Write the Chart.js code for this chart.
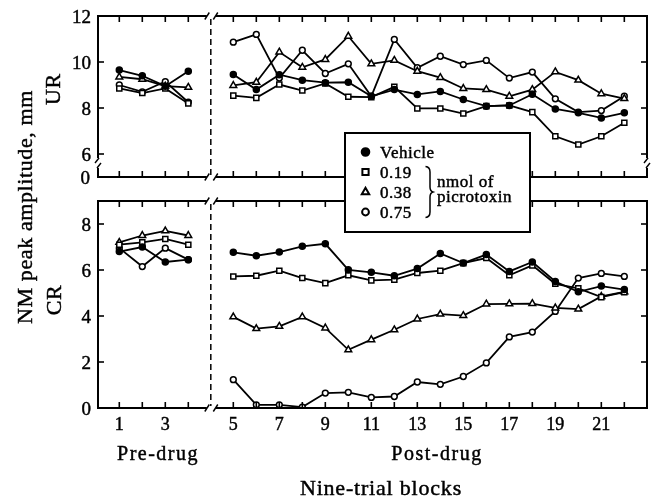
<!DOCTYPE html>
<html><head><meta charset="utf-8">
<script src="https://cdn.jsdelivr.net/npm/chart.js@4.4.1/dist/chart.umd.min.js"></script>
<style>html,body{margin:0;padding:0;background:#fff;}canvas{display:block;}</style>
</head><body>
<canvas id="c" width="656" height="498"></canvas>
<script>
// ---------- DATA ----------
const preBlocks = [1, 2, 3, 4];
const postBlocks = [5, 6, 7, 8, 9, 10, 11, 12, 13, 14, 15, 16, 17, 18, 19, 20, 21, 22];
const seriesNames = ['Vehicle', '0.19', '0.38', '0.75'];

// UR panel (top)
const urPreVehicle = [9.65, 9.4, 8.95, 9.6];
const urPre019 = [8.85, 8.65, 8.85, 8.2];
const urPre038 = [9.35, 9.25, 8.95, 8.9];
const urPre075 = [9.0, 8.7, 9.15, 8.25];
const urPostVehicle = [9.46, 8.8, 9.45, 9.21, 9.1, 9.12, 8.51, 8.8, 8.59, 8.72, 8.37, 8.08, 8.11, 8.6, 7.96, 7.79, 7.57, 7.79];
const urPost019 = [8.54, 8.44, 9.02, 8.76, 9.07, 8.49, 8.47, 8.92, 7.98, 7.98, 7.76, 8.08, 8.11, 7.82, 6.77, 6.41, 6.77, 7.36];
const urPost038 = [8.98, 9.12, 10.43, 9.77, 10.11, 11.12, 9.92, 10.07, 9.6, 9.32, 8.85, 8.8, 8.51, 8.8, 9.57, 9.21, 8.62, 8.41];
const urPost075 = [10.86, 11.2, 9.3, 10.51, 9.5, 9.92, 8.51, 10.98, 9.75, 10.25, 9.89, 10.07, 9.3, 9.56, 8.4, 7.82, 7.89, 8.51];

// CR panel (bottom)
const crPreVehicle = [6.8, 7.0, 6.35, 6.45];
const crPre019 = [7.1, 7.2, 7.35, 7.1];
const crPre038 = [7.2, 7.5, 7.7, 7.5];
const crPre075 = [6.95, 6.15, 6.95, 6.45];
const crPostVehicle = [6.77, 6.62, 6.78, 7.03, 7.14, 6.01, 5.9, 5.75, 6.06, 6.72, 6.3, 6.67, 5.94, 6.35, 5.5, 5.05, 5.3, 5.15];
const crPost019 = [5.72, 5.75, 5.97, 5.65, 5.43, 5.77, 5.55, 5.58, 5.87, 5.97, 6.3, 6.52, 5.77, 6.2, 5.4, 5.2, 4.82, 5.04];
const crPost038 = [3.96, 3.45, 3.55, 3.96, 3.48, 2.53, 2.97, 3.4, 3.87, 4.08, 4.02, 4.52, 4.53, 4.54, 4.35, 4.3, 4.85, 5.05];
const crPost075 = [1.23, 0.14, 0.14, 0.04, 0.65, 0.68, 0.46, 0.5, 1.13, 1.03, 1.37, 1.96, 3.09, 3.3, 4.2, 5.65, 5.85, 5.72];

// Tick labels
const urTickValues = [6, 8, 10, 12];
const urBreakLabel = '0';
const crTickValues = [0, 2, 4, 6, 8];
const xTickLabelsPre = [1, 3];
const xTickLabelsPost = [5, 7, 9, 11, 13, 15, 17, 19, 21];

// Texts
const yTitle = 'NM peak amplitude, mm';
const urLabel = 'UR';
const crLabel = 'CR';
const preLabel = 'Pre-drug';
const postLabel = 'Post-drug';
const xTitle = 'Nine-trial blocks';
const legendNote = ['nmol of', 'picrotoxin'];

// ---------- STYLE ----------
const SERIF = '"Liberation Serif", "Times New Roman", serif';
const markerStyle = {
  'Vehicle': {pointStyle: 'circle', radius: 3.0, bg: '#000', legendRadius: 3.8},
  '0.19': {pointStyle: 'rect', radius: 3.6, bg: '#fff', legendRadius: 4.4},
  '0.38': {pointStyle: 'triangle', radius: 3.9, bg: '#fff', legendRadius: 4.3},
  '0.75': {pointStyle: 'circle', radius: 2.9, bg: '#fff', legendRadius: 3.4}
};
const urRange = [5, 12];
const crRange = [0, 9];

function makeDataset(name, blocks, values, xID, yID) {
  const s = markerStyle[name];
  return {
    label: name,
    data: blocks.map((b, i) => ({x: b, y: values[i]})),
    xAxisID: xID, yAxisID: yID,
    borderColor: '#000', borderWidth: 1.8,
    pointStyle: s.pointStyle, pointRadius: s.radius,
    pointBackgroundColor: s.bg, pointBorderColor: '#000', pointBorderWidth: 1.5,
    fill: false, tension: 0
  };
}

const datasets = [
  makeDataset('Vehicle', preBlocks, urPreVehicle, 'x', 'yTop'),
  makeDataset('0.19', preBlocks, urPre019, 'x', 'yTop'),
  makeDataset('0.38', preBlocks, urPre038, 'x', 'yTop'),
  makeDataset('0.75', preBlocks, urPre075, 'x', 'yTop'),
  makeDataset('Vehicle', postBlocks, urPostVehicle, 'xPost', 'yTop'),
  makeDataset('0.19', postBlocks, urPost019, 'xPost', 'yTop'),
  makeDataset('0.38', postBlocks, urPost038, 'xPost', 'yTop'),
  makeDataset('0.75', postBlocks, urPost075, 'xPost', 'yTop'),
  makeDataset('Vehicle', preBlocks, crPreVehicle, 'x', 'yBot'),
  makeDataset('0.19', preBlocks, crPre019, 'x', 'yBot'),
  makeDataset('0.38', preBlocks, crPre038, 'x', 'yBot'),
  makeDataset('0.75', preBlocks, crPre075, 'x', 'yBot'),
  makeDataset('Vehicle', postBlocks, crPostVehicle, 'xPost', 'yBot'),
  makeDataset('0.19', postBlocks, crPost019, 'xPost', 'yBot'),
  makeDataset('0.38', postBlocks, crPost038, 'xPost', 'yBot'),
  makeDataset('0.75', postBlocks, crPost075, 'xPost', 'yBot')
];

function line(ctx, x1, y1, x2, y2) {
  ctx.beginPath(); ctx.moveTo(x1, y1); ctx.lineTo(x2, y2); ctx.stroke();
}
function text(ctx, str, x, y, size, align, spacing) {
  ctx.font = size + 'px ' + SERIF;
  ctx.textAlign = align || 'left';
  ctx.textBaseline = 'alphabetic';
  try { ctx.letterSpacing = (spacing || 0) + 'px'; } catch (e) {}
  ctx.fillText(str, x, y);
  const lw = ctx.lineWidth, ss = ctx.strokeStyle;
  ctx.lineWidth = 0.45; ctx.strokeStyle = '#000';
  ctx.strokeText(str, x, y);
  ctx.lineWidth = lw; ctx.strokeStyle = ss;
  try { ctx.letterSpacing = '0px'; } catch (e) {}
}

const framePlugin = {
  id: 'frames',
  afterDatasetsDraw(chart) {
    const {ctx, chartArea, scales} = chart;
    const xPre = scales.x, xPost = scales.xPost;
    const L = chartArea.left, R = chartArea.right;
    const bx = (xPre.getPixelForValue(preBlocks[preBlocks.length - 1]) + xPost.getPixelForValue(postBlocks[0])) / 2;
    ctx.save();
    ctx.strokeStyle = '#000'; ctx.fillStyle = '#000';
    ctx.lineCap = 'butt';

    const hEdge = (y) => {
      ctx.lineWidth = 2;
      line(ctx, L - 1, y, bx - 4, y);
      line(ctx, bx + 5, y, R + 1, y);
      ctx.lineWidth = 1.4;
      line(ctx, bx - 6, y + 3.5, bx - 1.5, y - 3.5);
      line(ctx, bx + 2.5, y + 3.5, bx + 7, y - 3.5);
    };
    const xTicks = (top, bottom) => {
      ctx.lineWidth = 1.6;
      preBlocks.forEach(b => { const p = xPre.getPixelForValue(b); line(ctx, p, top, p, top + 6); line(ctx, p, bottom, p, bottom - 6); });
      postBlocks.forEach(b => { const p = xPost.getPixelForValue(b); line(ctx, p, top, p, top + 6); line(ctx, p, bottom, p, bottom - 6); });
    };
    const dashed = (top, bottom) => {
      ctx.save(); ctx.lineWidth = 1.5; ctx.setLineDash([6, 4]);
      line(ctx, bx, top + 3, bx, bottom - 2);
      ctx.restore();
    };

    // ---- top panel (UR) ----
    const yT = scales.yTop;
    const tTop = yT.getPixelForValue(urRange[1]);
    const tBot = yT.getPixelForValue(urRange[0]);
    hEdge(tTop); hEdge(tBot);
    ctx.lineWidth = 2;
    [L, R].forEach((x) => {
      line(ctx, x, tTop, x, tBot - 19);
      line(ctx, x, tBot - 9, x, tBot);
      ctx.lineWidth = 1.4;
      line(ctx, x - 3, tBot - 14, x + 1, tBot - 19);
      line(ctx, x - 1, tBot - 9, x + 3, tBot - 14);
      ctx.lineWidth = 2;
    });
    xTicks(tTop, tBot);
    ctx.lineWidth = 1.6;
    urTickValues.forEach(v => { const p = yT.getPixelForValue(v); line(ctx, L, p, L + 6, p); line(ctx, R, p, R - 6, p); });
    dashed(tTop, tBot);
    ctx.fillStyle = '#000';
    urTickValues.forEach(v => text(ctx, String(v), L - 7, yT.getPixelForValue(v) + 6.5, 19, 'right'));
    text(ctx, urBreakLabel, L - 8, tBot + 6.5, 19, 'right');

    // ---- bottom panel (CR) ----
    const yB = scales.yBot;
    const bTop = yB.getPixelForValue(crRange[1]);
    const bBot = yB.getPixelForValue(crRange[0]);
    hEdge(bTop); hEdge(bBot);
    ctx.lineWidth = 2;
    line(ctx, L, bTop, L, bBot + 1);
    line(ctx, R, bTop, R, bBot + 1);
    xTicks(bTop, bBot);
    ctx.lineWidth = 1.6;
    crTickValues.forEach(v => { const p = yB.getPixelForValue(v); line(ctx, L, p, L + 6, p); line(ctx, R, p, R - 6, p); });
    dashed(bTop, bBot);
    crTickValues.forEach(v => text(ctx, String(v), L - 7, yB.getPixelForValue(v) + 6.5, 19, 'right'));

    // x tick labels
    xTickLabelsPre.forEach(v => text(ctx, String(v), xPre.getPixelForValue(v), bBot + 22, 18, 'center'));
    xTickLabelsPost.forEach(v => text(ctx, String(v), xPost.getPixelForValue(v), bBot + 22, 18, 'center'));

    // x labels
    text(ctx, preLabel, 158, 460, 20, 'center', 1.5);
    text(ctx, postLabel, 437, 460, 20, 'center', 1.5);
    text(ctx, xTitle, 381, 495, 22, 'center', 0.8);

    // y titles (rotated)
    const rot = (str, x, y) => {
      ctx.save(); ctx.translate(x, y); ctx.rotate(-Math.PI / 2);
      text(ctx, str, 0, 0, 22, 'center', 0.6);
      ctx.restore();
    };
    rot(yTitle, 32, 207);
    rot(urLabel, 60, 89);
    rot(crLabel, 61, 300);

    // ---- legend box ----
    const bxL = 345, byT = 133, bw = 185, bh = 99;
    ctx.fillStyle = '#fff';
    ctx.fillRect(bxL, byT, bw, bh);
    ctx.lineWidth = 2; ctx.strokeStyle = '#000';
    ctx.strokeRect(bxL, byT, bw, bh);
    ctx.fillStyle = '#000';
    seriesNames.forEach((name, i) => {
      const s = markerStyle[name];
      const base = 157.5 + i * 20;
      ctx.save();
      ctx.lineWidth = 2; ctx.strokeStyle = '#000'; ctx.fillStyle = s.bg;
      Chart.helpers.drawPoint(ctx, {pointStyle: s.pointStyle, radius: s.legendRadius, rotation: 0, borderWidth: 2}, 365.5, base - 5.5);
      ctx.restore();
      ctx.fillStyle = '#000';
      text(ctx, name, 380, base, 17, 'left', 0.5);
    });
    // brace
    ctx.lineWidth = 1.5;
    ctx.beginPath();
    ctx.moveTo(425.5, 166.5);
    ctx.quadraticCurveTo(430, 167, 430, 172);
    ctx.lineTo(430, 187);
    ctx.quadraticCurveTo(430, 191, 433, 192);
    ctx.quadraticCurveTo(430, 193, 430, 197);
    ctx.lineTo(430, 212);
    ctx.quadraticCurveTo(430, 217, 425.5, 217.5);
    ctx.stroke();
    text(ctx, legendNote[0], 437, 187, 17, 'left', 0.5);
    text(ctx, legendNote[1], 437, 202, 17, 'left', 0.5);
    ctx.restore();
  }
};

new Chart(document.getElementById('c'), {
  type: 'line',
  data: {datasets},
  options: {
    responsive: false,
    animation: false,
    devicePixelRatio: 1,
    layout: {padding: {left: 98, top: 16, right: 9, bottom: 90}},
    plugins: {legend: {display: false}, tooltip: {enabled: false}},
    scales: {
      x: {type: 'linear', min: 0.074, max: 23.943, display: false},
      xPost: {type: 'linear', axis: 'x', position: 'bottom', min: -0.883, max: 22.986, display: false},
      yTop: {type: 'linear', axis: 'y', min: 12 - 392 / 23, max: 12, display: false},
      yBot: {type: 'linear', axis: 'y', min: 0, max: 392 / 23, display: false}
    }
  },
  plugins: [framePlugin]
});
</script>
</body></html>
